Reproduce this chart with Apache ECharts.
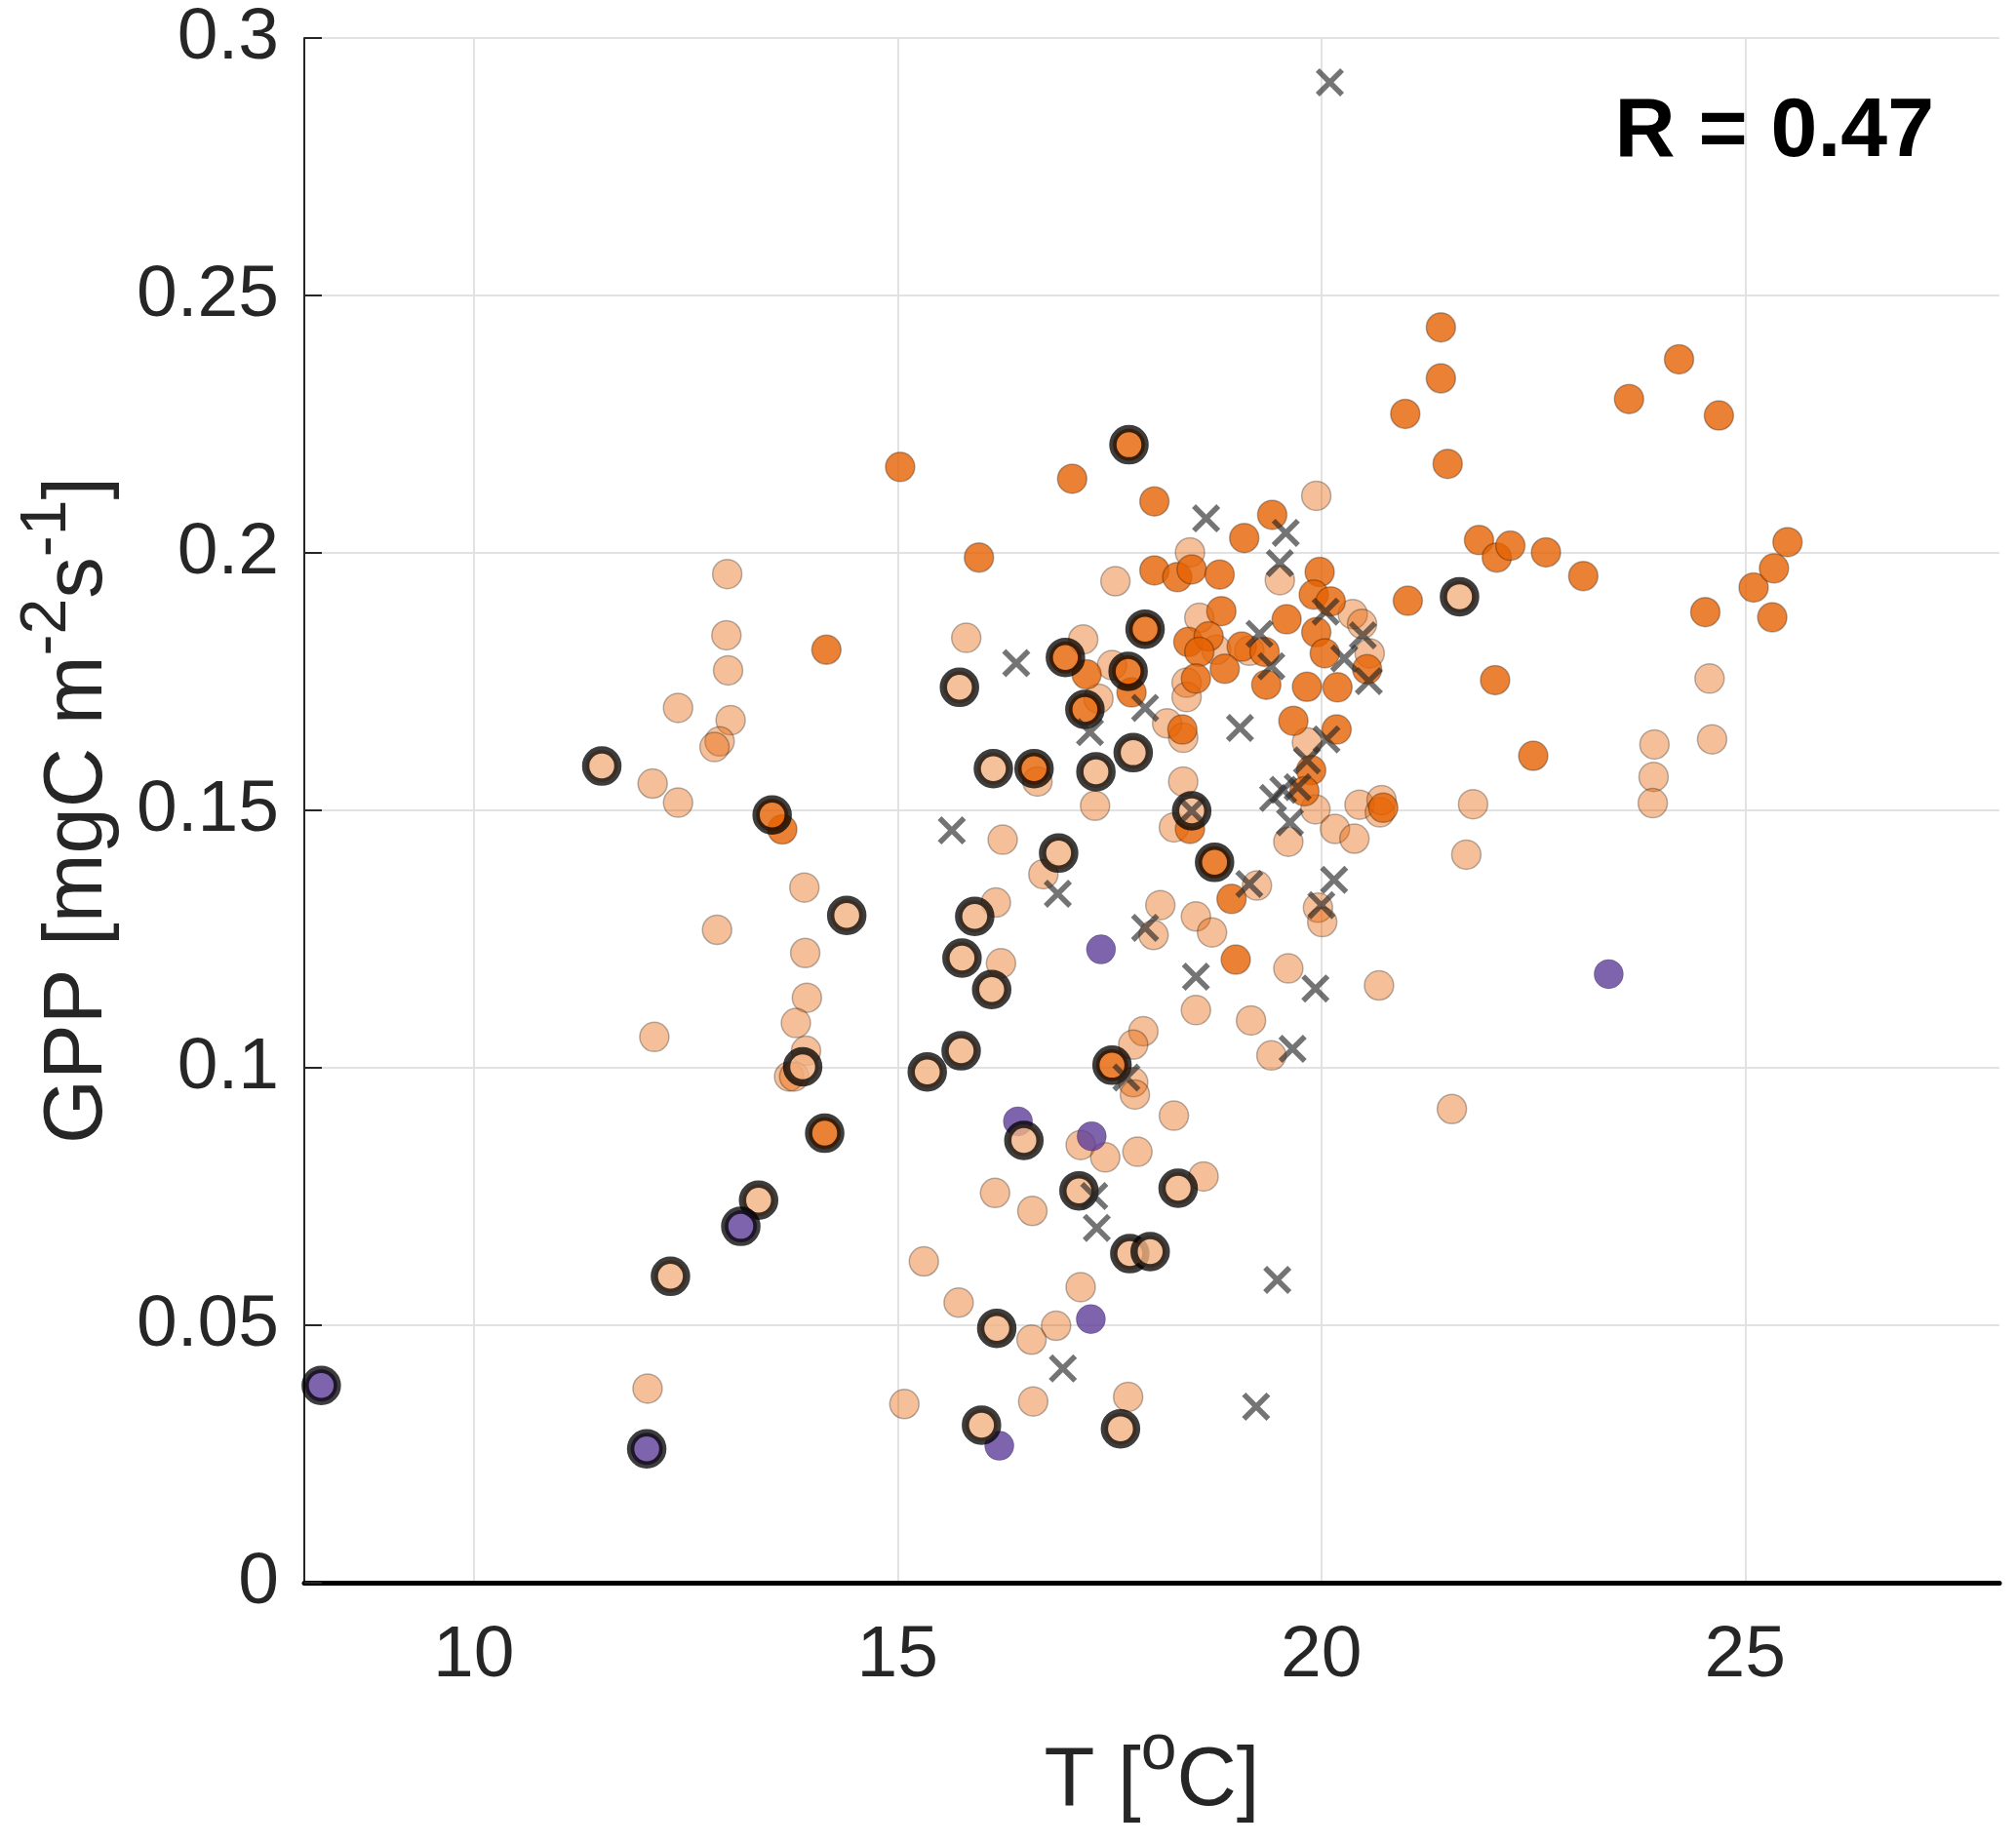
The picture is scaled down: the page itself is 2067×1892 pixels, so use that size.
<!DOCTYPE html>
<html>
<head>
<meta charset="utf-8">
<script src="https://cdn.jsdelivr.net/npm/echarts@6/dist/echarts.min.js"></script>
<style>
html,body{margin:0;padding:0;background:#fff;}
#chart{width:2067px;height:1892px;}
</style>
</head>
<body>
<div id="chart"></div>
<script>
// ---- data (T in degC, GPP in mgC m-2 s-1) ----
const xTickValues = [10, 15, 20, 25];

// light (semi-transparent orange) circles
const lightT = [12.11,12.41,12.41,12.99,12.98,13.00,13.03,12.90,12.84,12.87,12.13,12.05,13.90,13.91,13.93,13.80,13.92,13.72,13.78,
  15.81,17.57,18.45,18.56,18.76,18.41,18.41,17.19,17.53,17.37,18.18,18.37,16.65,18.37,17.33,19.94,19.51,20.37,20.48,20.57,19.15,
  19.83,19.93,19.61,20.16,20.39,20.45,20.69,20.71,21.79,21.71,21.54,16.24,16.72,18.26,19.24,18.10,18.52,18.71,18.02,18.52,19.17,
  16.16,16.22,17.90,17.78,17.78,17.80,18.26,17.16,17.45,17.83,19.41,19.61,20.68,19.96,20.01,18.61,16.15,16.59,15.31,15.72,16.58,
  16.87,17.16,15.08,16.60,17.72,24.58,24.61,23.93,23.92,23.91];
const lightGPP = [0.1552,0.1699,0.1515,0.1959,0.1840,0.1772,0.1675,0.1634,0.1623,0.1268,0.1060,0.0377,0.1350,0.1223,0.1136,0.1087,0.1033,0.0983,0.0983,
  0.1835,0.1945,0.2001,0.1874,0.1812,0.1748,0.1720,0.1832,0.1782,0.1717,0.1669,0.1641,0.1556,0.1556,0.1509,0.2111,0.1947,0.1881,0.1862,0.1805,0.1810,
  0.1632,0.1502,0.1439,0.1464,0.1445,0.1511,0.1496,0.1520,0.1512,0.1414,0.0920,0.1443,0.1376,0.1467,0.1354,0.1316,0.1294,0.1263,0.1258,0.1112,0.1092,
  0.1321,0.1203,0.1071,0.1045,0.0972,0.0948,0.0907,0.0850,0.0826,0.0837,0.1024,0.1193,0.1160,0.1311,0.1283,0.0789,0.0757,0.0722,0.0624,0.0544,0.0472,
  0.0499,0.0574,0.0347,0.0352,0.0361,0.1756,0.1638,0.1628,0.1565,0.1514];

// dark orange circles
const darkT = [13.64,14.16,15.03,15.96,17.06,18.03,19.09,19.42,18.03,18.30,18.47,18.80,18.82,18.43,18.67,18.56,19.06,18.86,18.52,19.35,
  17.23,17.76,18.36,19.98,21.86,22.07,22.23,22.65,21.02,19.91,20.11,19.94,19.59,20.04,19.33,20.54,19.83,20.19,22.05,19.67,20.18,
  19.88,19.80,22.50,20.73,18.45,18.94,18.99,21.41,21.41,20.99,21.49,24.22,23.63,24.69,23.09,24.53,25.10,25.34,25.50,25.32];
const darkGPP = [0.1463,0.1812,0.2167,0.1991,0.2144,0.2100,0.2029,0.2074,0.1966,0.1953,0.1968,0.1958,0.1887,0.1827,0.1838,0.1808,0.1818,0.1775,0.1756,0.1744,
  0.1764,0.1729,0.1657,0.1963,0.2025,0.1991,0.2014,0.2001,0.1907,0.1919,0.1906,0.1846,0.1871,0.1805,0.1808,0.1774,0.1740,0.1739,0.1753,0.1674,0.1657,
  0.1578,0.1537,0.1606,0.1505,0.1464,0.1328,0.1210,0.2438,0.2339,0.2270,0.2173,0.2376,0.2299,0.2267,0.1955,0.1885,0.1933,0.1970,0.2021,0.1875];

// purple circles
const purpleT = [17.40,16.42,17.29,17.28,16.20,23.39];
const purpleGPP = [0.1230,0.0896,0.0867,0.0512,0.0266,0.1182];

// circles with a thick black ring
const lightRingT = [11.51,12.32,13.36,14.40,13.88,15.73,16.13,17.34,17.78,18.47,16.90,15.91,15.76,16.11,15.75,15.35,16.49,17.14,18.31,17.74,17.98,16.17,15.99,17.63,21.63];
const lightRingGPP = [0.1586,0.0595,0.0743,0.1296,0.1002,0.1739,0.1581,0.1575,0.1612,0.1499,0.1417,0.1294,0.1213,0.1152,0.1033,0.0992,0.0859,0.0761,0.0766,0.0639,0.0643,0.0494,0.0306,0.0299,0.1915];
const darkRingT = [13.52,14.14,17.73,17.92,16.98,17.72,17.21,16.61,18.74,17.53];
const darkRingGPP = [0.1491,0.0873,0.2210,0.1852,0.1797,0.1770,0.1696,0.1581,0.1399,0.1005];
const purpleRingT = [8.20,12.04,13.15];
const purpleRingGPP = [0.0383,0.0260,0.0692];

// crosses
const crossT = [20.10,16.40,15.64,16.89,17.27,17.92,18.64,19.58,19.51,19.27,19.41,19.04,20.05,20.49,20.27,20.56,19.83,20.06,19.43,19.55,
  19.72,19.63,18.47,19.15,20.15,20.00,17.92,18.52,19.93,19.66,17.70,17.32,17.35,19.48,16.95,19.23];
const crossGPP = [0.2914,0.1786,0.1461,0.1338,0.1652,0.1699,0.2067,0.2039,0.1980,0.1843,0.1780,0.1660,0.1886,0.1840,0.1795,0.1751,0.1597,0.1638,0.1524,0.1540,
  0.1545,0.1477,0.1499,0.1357,0.1365,0.1316,0.1272,0.1177,0.1154,0.1037,0.0981,0.0751,0.0689,0.0588,0.0416,0.0342];

const rValue = 0.47;

// ---- build ----
function zip(a, b) { return a.map((v, i) => [v, b[i]]); }
const FONT = "'Liberation Sans', Arial, Helvetica, sans-serif";
const TXT = '#262626';
const ORANGE = '#E66101';
const ORANGE_LIGHT = 'rgba(230,97,1,0.5)';
const PURPLE = '#5E3C99';
const CROSS_PATH = 'path://M0.78,-0.78L10.78,9.22L9.22,10.78L-0.78,0.78ZM10.78,0.78L0.78,10.78L-0.78,9.22L9.22,-0.78Z';

const chart = echarts.init(document.getElementById('chart'), null, {renderer: 'canvas'});

const normalStyle = (c) => ({color: c, borderColor: 'rgba(0,0,0,0.35)', borderWidth: 1.5});
const ringStyle = (c) => ({color: c, borderColor: 'rgba(0,0,0,0.95)', borderWidth: 7.5});
const supRich = {s: {fontSize: 66, verticalAlign: 'top', fontFamily: FONT, color: TXT}};

const option = {
  animation: false,
  backgroundColor: '#fff',
  grid: {left: 312, right: 17, top: 39, bottom: 269, containLabel: false, outerBoundsMode: 'none'},
  xAxis: {
    type: 'value', min: 8, max: 28,
    name: 'T [{s|o}C]',
    nameLocation: 'middle', nameGap: 140, nameMoveOverlap: false,
    nameTextStyle: {fontSize: 85, lineHeight: 130, fontFamily: FONT, color: TXT, rich: supRich},
    axisLine: {show: true, onZero: false, lineStyle: {color: '#000', width: 5}},
    axisTick: {show: false, customValues: xTickValues},
    axisLabel: {customValues: xTickValues, fontSize: 75, lineHeight: 75, margin: 38, fontFamily: FONT, color: TXT},
    splitLine: {show: true, lineStyle: {color: '#e2e2e2', width: 2}}
  },
  yAxis: {
    type: 'value', min: 0, max: 0.3, interval: 0.05,
    name: 'GPP [mgC m{s|-2}s{s|-1}]',
    nameLocation: 'middle', nameGap: 166, nameRotate: 90, nameMoveOverlap: false,
    nameTextStyle: {fontSize: 85, lineHeight: 130, fontFamily: FONT, color: TXT, rich: supRich},
    axisLine: {show: true, onZero: false, lineStyle: {color: TXT, width: 2}},
    axisTick: {show: true, inside: true, length: 18, lineStyle: {color: TXT, width: 2}},
    axisLabel: {fontSize: 75, margin: 26, fontFamily: FONT, color: TXT,
      formatter: (v) => String(parseFloat(v.toFixed(2)))},
    splitLine: {show: true, lineStyle: {color: '#e2e2e2', width: 2}}
  },
  graphic: [{
    type: 'text', x: 1983, y: 136, z: 100,
    style: {text: 'R = ' + rValue.toFixed(2), font: 'bold 86px ' + FONT, fill: '#000',
      textAlign: 'right', textVerticalAlign: 'middle', align: 'right', verticalAlign: 'middle'}
  }],
  series: [
    {type: 'scatter', name: 'light', data: zip(lightT, lightGPP), symbol: 'circle', symbolSize: 30,
      itemStyle: normalStyle(ORANGE_LIGHT), z: 2, emphasis: {disabled: true}},
    {type: 'scatter', name: 'dark', data: zip(darkT, darkGPP), symbol: 'circle', symbolSize: 30,
      itemStyle: normalStyle(ORANGE), z: 3, emphasis: {disabled: true}},
    {type: 'scatter', name: 'purple', data: zip(purpleT, purpleGPP), symbol: 'circle', symbolSize: 30,
      itemStyle: {color: PURPLE, borderColor: 'rgba(0,0,0,0.25)', borderWidth: 1}, z: 3, emphasis: {disabled: true}},
    {type: 'scatter', name: 'lightRing', data: zip(lightRingT, lightRingGPP), symbol: 'circle', symbolSize: 33,
      itemStyle: ringStyle('#F3B282'), z: 4, emphasis: {disabled: true}},
    {type: 'scatter', name: 'darkRing', data: zip(darkRingT, darkRingGPP), symbol: 'circle', symbolSize: 33,
      itemStyle: ringStyle(ORANGE), z: 4, emphasis: {disabled: true}},
    {type: 'scatter', name: 'purpleRing', data: zip(purpleRingT, purpleRingGPP), symbol: 'circle', symbolSize: 33,
      itemStyle: ringStyle(PURPLE), z: 4, emphasis: {disabled: true}},
    {type: 'scatter', name: 'cross', data: zip(crossT, crossGPP), symbol: CROSS_PATH, symbolSize: 29,
      itemStyle: {color: 'rgba(38,38,38,0.8)', borderWidth: 0}, z: 5, emphasis: {disabled: true}}
  ]
};
chart.setOption(option);
</script>
</body>
</html>
